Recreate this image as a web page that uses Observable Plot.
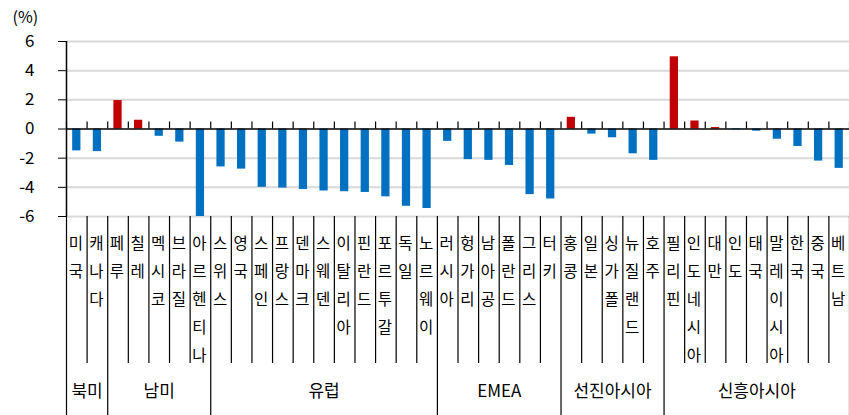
<!DOCTYPE html>
<html><head><meta charset="utf-8">
<script src="https://cdn.jsdelivr.net/npm/d3@7"></script>
<script src="https://cdn.jsdelivr.net/npm/@observablehq/plot@0.6"></script>
<style>body{margin:0;background:#fff;}#chart{width:849px;height:415px;}</style>
</head><body><div id="chart"></div>
<script>
const countries = ["미국","캐나다","페루","칠레","멕시코","브라질","아르헨티나","스위스","영국","스페인","프랑스","덴마크","스웨덴","이탈리아","핀란드","포르투갈","독일","노르웨이","러시아","헝가리","남아공","폴란드","그리스","터키","홍콩","일본","싱가폴","뉴질랜드","호주","필리핀","인도네시아","대만","인도","태국","말레이시아","한국","중국","베트남"];
const values = [-1.5,-1.55,1.95,0.6,-0.5,-0.9,-6.0,-2.6,-2.75,-4.0,-4.05,-4.15,-4.25,-4.3,-4.35,-4.65,-5.3,-5.45,-0.85,-2.1,-2.15,-2.5,-4.5,-4.8,0.8,-0.35,-0.6,-1.7,-2.15,4.95,0.55,0.1,-0.05,-0.15,-0.7,-1.2,-2.2,-2.7];
const groups = ["북미","남미","유럽","EMEA","선진아시아","신흥아시아"];
const groupSizes = [2,5,11,6,5,9];
const yTicks = [-6,-4,-2,0,2,4,6];

const data = countries.map((c,i)=>({c, i, v: values[i]}));
let acc = 0;
const groupData = groups.map((g,k)=>{const s=acc; acc+=groupSizes[k]; return {g, start:s, end:acc};});
const bounds = d3.range(countries.length+1);
const groupBounds = [0, ...groupData.map(d=>d.end)];
const catBounds = bounds.filter(b=>!groupBounds.includes(b));

const chart = Plot.plot({
  width: 849, height: 415,
  marginLeft: 66, marginRight: 0, marginTop: 41, marginBottom: 199,
  style: {fontFamily: "'Noto Sans CJK KR', sans-serif", fontSize: "15px", background: "#fff", color: "#000"},
  x: {domain: [0, countries.length], axis: null},
  y: {domain: [-6, 6], axis: null},
  marks: [
    Plot.ruleY(yTicks.filter(t=>t!==0), {stroke: "#d9d9d9", strokeWidth: 2}),
    Plot.rectY(data, {x1: d=>d.i+0.3, x2: d=>d.i+0.7, y: "v", fill: d=>d.v>=0 ? "#C00000" : "#0070C0"}),
    Plot.ruleY([0], {stroke: "#000", strokeWidth: 1.5}),
    Plot.ruleX(bounds, {x: d=>d, y1: 0, y2: 0, insetTop: -7, stroke: "#000", strokeWidth: 1.2}),
    Plot.ruleX(catBounds, {x: d=>d, y1: -6, y2: -6, insetBottom: -147, stroke: "#000", strokeWidth: 1.2}),
    Plot.ruleX(groupBounds, {x: d=>d, y1: -6, y2: -6, insetBottom: -199, stroke: "#000", strokeWidth: 1.2}),
    Plot.ruleX([0], {x: d=>d, y1: -6, y2: 6, stroke: "#000", strokeWidth: 1.5}),
    Plot.axisY({ticks: yTicks, tickSize: 8, tickPadding: 24, tickFormat: d=>String(d), fontSize: 17, stroke: "#000", label: null}),
    Plot.text(data, {x: d=>d.i+0.45, text: d=>d.c.split("").join("\n"), frameAnchor: "bottom", lineAnchor: "top", dy: 13, lineHeight: 1.8, fontSize: 15.5, fill: "#000"}),
    Plot.text(groupData, {x: d=>(d.start+d.end)/2, text: "g", frameAnchor: "bottom", dy: 180, fontSize: 17, fill: "#000"}),
    Plot.text(["(%)"], {frameAnchor: "top-left", textAnchor: "start", lineAnchor: "middle", dx: -54, dy: -24, fontSize: 16, fill: "#000"})
  ]
});
document.getElementById("chart").appendChild(chart);
</script></body></html>
